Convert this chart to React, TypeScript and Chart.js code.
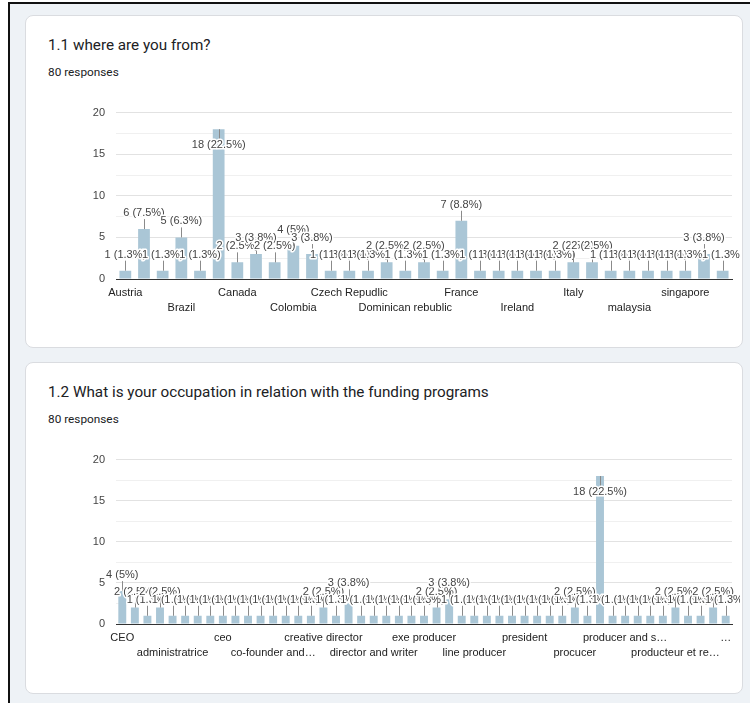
import React, { useEffect, useRef } from 'react';
import { Chart, registerables } from 'chart.js';

Chart.register(...registerables);

const TOTAL_RESPONSES = 80;

// ---- Chart 1: where are you from? ----
const countryCategories = [
  'Austria', 'Belgium', 'Bosnia', 'Brazil', 'Bulgaria', 'CANADA', 'Canada', 'Chile', 'China',
  'Colombia', 'Croatia', 'Cyprus', 'Czech Repudlic', 'Denmark', 'Dominican Republic',
  'Dominican rebublic', 'Estonia', 'Finland', 'France', 'Germany', 'Greece', 'Ireland',
  'Israel', 'Italia', 'Italy', 'Japan', 'Lebanon', 'malaysia', 'Netherlands', 'Portugal',
  'singapore', 'Spain', 'USA',
];
const countryValues = [
  1, 6, 1, 5, 1, 18, 2, 3, 2, 4, 3, 1, 1, 1, 2, 1, 2, 1, 7, 1, 1, 1, 1, 1, 2, 2, 1, 1, 1, 1, 1, 3, 1,
];
const countryTickLabels = [
  'Austria', 'Brazil', 'Canada', 'Colombia', 'Czech Repudlic', 'Dominican rebublic',
  'France', 'Ireland', 'Italy', 'malaysia', 'singapore',
];

// ---- Chart 2: occupation ----
const occupationCategories = [
  'CEO', 'CEO / Producer', 'Director', 'Producer', 'administratrice', 'agent', 'artist',
  'assistant producer', 'ceo', 'chargée de projet', 'co-director', 'co-founder',
  'co-founder and producer', 'coordinator', 'creative', 'creative consultant',
  'creative director', 'developer', 'director', 'director and producer', 'director and writer',
  'director-producer', 'distributor', 'editor', 'exe producer', 'executive producer',
  'filmmaker', 'founder', 'line producer', 'manager', 'owner', 'partner', 'president',
  'presidente', 'prod', 'prod manager', 'procucer', 'produced', 'producer',
  'producer / director', 'producer and screenwriter', 'producer and writer',
  'producer-director', 'productrice', 'producteur et réalisateur', 'production',
  'productor', 'réalisateur', 'réalisatrice, scénariste et productrice',
];
const occupationValues = [
  4, 2, 1, 2, 1, 1, 1, 1, 1, 1, 1, 1, 1, 1, 1, 1, 2, 1, 3, 1, 1, 1, 1, 1,
  1, 2, 3, 1, 1, 1, 1, 1, 1, 1, 1, 1, 2, 1, 18, 1, 1, 1, 1, 1, 2, 1, 1, 2, 1,
];
const occupationTickLabels = [
  'CEO', 'administratrice', 'ceo', 'co-founder and…', 'creative director',
  'director and writer', 'exe producer', 'line producer', 'president', 'procucer',
  'producer and s…', 'producteur et re…', '…',
];

const yMax = 20;
const yStep = 2.5;
const yLabelStep = 5;

const CHART_FONT = 'Arial, "Liberation Sans", sans-serif';
const UI_FONT = 'Roboto, "Noto Sans", Arial, sans-serif';
const BAR_COLOR = '#aac6d6';

const barAnnotations = {
  id: 'barAnnotations',
  afterDatasetsDraw(chart: any) {
    const { ctx, chartArea } = chart;
    const meta = chart.getDatasetMeta(0);
    const data = chart.data.datasets[0].data as number[];
    ctx.save();
    ctx.font = `11px ${CHART_FONT}`;
    ctx.textAlign = 'center';
    ctx.textBaseline = 'middle';
    ctx.lineJoin = 'round';
    meta.data.forEach((bar: any, i: number) => {
      const v = data[i];
      const pct = Math.round((v * 1000) / TOTAL_RESPONSES) / 10;
      const text = `${v} (${pct}%)`;
      const x = bar.x;
      const top = bar.y;
      let cy: number;
      let s1: number;
      if (top - 23 >= chartArea.top) {
        cy = top - 16;
        s1 = top - 10;
      } else {
        cy = top + 16;
        s1 = top + 10;
      }
      const sx = Math.round(x) + 0.5;
      ctx.strokeStyle = '#8a8a8a';
      ctx.lineWidth = 1;
      ctx.beginPath();
      ctx.moveTo(sx, top);
      ctx.lineTo(sx, s1);
      ctx.stroke();
      ctx.strokeStyle = '#ffffff';
      ctx.lineWidth = 3;
      ctx.strokeText(text, x, cy);
      ctx.fillStyle = '#444444';
      ctx.fillText(text, x, cy);
    });
    ctx.restore();
  },
};

type BarChartProps = {
  left: number;
  top: number;
  width: number;
  height: number;
  categories: string[];
  values: number[];
  tickLabels: string[];
  labelEvery: number;
};

function BarChart({ left, top, width, height, categories, values, tickLabels, labelEvery }: BarChartProps) {
  const ref = useRef<HTMLCanvasElement | null>(null);
  useEffect(() => {
    if (!ref.current) return;
    const chart = new Chart(ref.current, {
      type: 'bar',
      data: {
        labels: categories,
        datasets: [
          {
            data: values,
            backgroundColor: BAR_COLOR,
            borderWidth: 0,
            barPercentage: 0.63,
            categoryPercentage: 1,
          },
        ],
      },
      options: {
        responsive: false,
        animation: false,
        devicePixelRatio: 1,
        layout: { padding: { left: 0, right: 8, top: 16, bottom: 0 } },
        plugins: { legend: { display: false }, tooltip: { enabled: false } },
        scales: {
          x: {
            grid: { display: false },
            border: { display: true, color: '#333333', width: 1 },
            ticks: {
              autoSkip: false,
              maxRotation: 0,
              minRotation: 0,
              padding: -2,
              color: '#222222',
              font: { family: CHART_FONT, size: 11, lineHeight: 15 / 11 },
              callback: (_v: any, index: number) => {
                if (index % labelEvery !== 0) return '';
                const k = index / labelEvery;
                const name = tickLabels[k] ?? '';
                return k % 2 === 0 ? name : ['', name];
              },
            },
            afterFit: (s: any) => {
              s.height = 56;
            },
          },
          y: {
            min: 0,
            max: yMax,
            grid: {
              drawTicks: false,
              color: (c: any) => {
                const v = c.tick?.value ?? 0;
                if (v === 0) return '#333333';
                return v % yLabelStep === 0 ? '#e2e2e2' : '#f0f0f0';
              },
            },
            border: { display: false },
            ticks: {
              stepSize: yStep,
              padding: 11,
              color: '#444444',
              font: { family: CHART_FONT, size: 11 },
              callback: (v: any) => (Number(v) % yLabelStep === 0 ? String(v) : ''),
            },
            afterFit: (s: any) => {
              s.width = 56;
            },
          },
        },
      },
      plugins: [barAnnotations],
    } as any);
    return () => chart.destroy();
  }, []);
  return (
    <canvas
      ref={ref}
      width={width}
      height={height}
      style={{ position: 'absolute', left, top, width, height }}
    />
  );
}

function Card({ top, height, title }: { top: number; height: number; title: string }) {
  return (
    <>
      <div
        style={{
          position: 'absolute',
          left: 25,
          top,
          width: 718,
          height,
          boxSizing: 'border-box',
          background: '#ffffff',
          border: '1px solid #dadce0',
          borderRadius: 8,
        }}
      />
      <div
        style={{
          position: 'absolute',
          left: 48,
          top: top + 20,
          fontFamily: UI_FONT,
          fontSize: 15.25,
          lineHeight: '20px',
          color: '#202124',
          whiteSpace: 'nowrap',
        }}
      >
        {title}
      </div>
      <div
        style={{
          position: 'absolute',
          left: 48,
          top: top + 49,
          fontFamily: UI_FONT,
          fontSize: 11.8,
          lineHeight: '16px',
          color: '#202124',
          whiteSpace: 'nowrap',
        }}
      >
        {`${TOTAL_RESPONSES} responses`}
      </div>
    </>
  );
}

export default function App() {
  return (
    <div
      style={{
        position: 'absolute',
        left: 0,
        top: 0,
        width: 750,
        height: 703,
        background: '#ffffff',
        overflow: 'hidden',
      }}
    >
      <div style={{ position: 'absolute', left: 8, top: 2, width: 742, height: 701, background: '#eef2f6' }} />
      <div style={{ position: 'absolute', left: 8, top: 2, width: 742, height: 2, background: '#111111' }} />
      <div style={{ position: 'absolute', left: 8, top: 2, width: 2, height: 701, background: '#111111' }} />
      <Card top={15} height={333} title="1.1 where are you from?" />
      <BarChart
        left={60}
        top={95}
        width={680}
        height={240}
        categories={countryCategories}
        values={countryValues}
        tickLabels={countryTickLabels}
        labelEvery={3}
      />
      <Card
        top={362}
        height={332}
        title="1.2 What is your occupation in relation with the funding programs"
      />
      <BarChart
        left={60}
        top={442}
        width={680}
        height={238}
        categories={occupationCategories}
        values={occupationValues}
        tickLabels={occupationTickLabels}
        labelEvery={4}
      />
    </div>
  );
}
